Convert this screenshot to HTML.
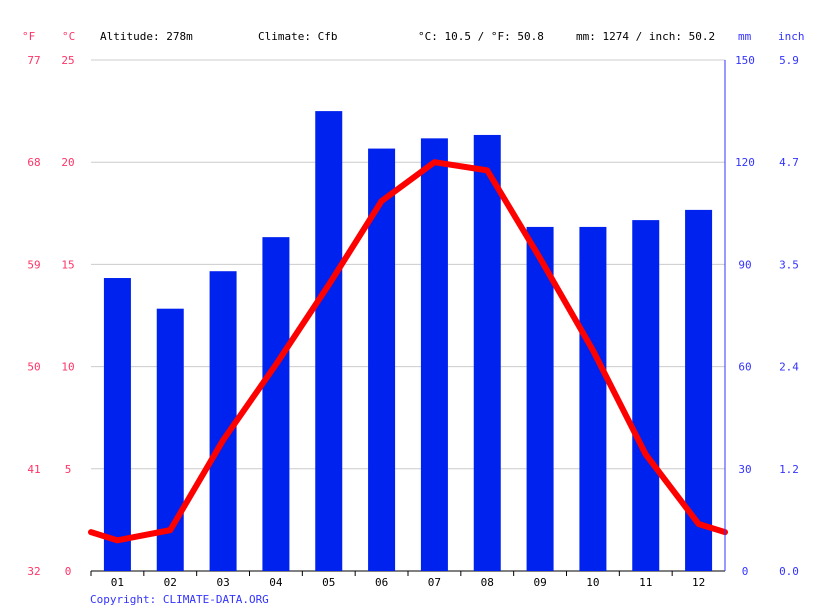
<!DOCTYPE html>
<html><head><meta charset="utf-8"><style>
body{margin:0;background:#fff;}
svg text{font-family:"DejaVu Sans Mono","Liberation Mono",monospace;font-size:11px;}
</style></head><body>
<svg id="chart" width="815" height="611" xmlns="http://www.w3.org/2000/svg">
<g id="grid"></g><g id="bars"></g><g id="line"></g><g id="axes"></g>
<text x="100" y="40" fill="#000">Altitude: 278m</text>
<text x="258" y="40" fill="#000">Climate: Cfb</text>
<text x="418" y="40" fill="#000">°C: 10.5 / °F: 50.8</text>
<text x="576" y="40" fill="#000">mm: 1274 / inch: 50.2</text>
<text x="22" y="40" fill="#ff3366">°F</text>
<text x="62" y="40" fill="#ff3366">°C</text>
<text x="738" y="40" fill="#3333ff">mm</text>
<text x="778" y="40" fill="#3333ff">inch</text>
<text x="90" y="603" fill="#3333ff">Copyright: CLIMATE-DATA.ORG</text>
</svg>
<script>
const months=["01","02","03","04","05","06","07","08","09","10","11","12"];
const precip=[86,77,88,98,135,124,127,128,101,101,103,106];
const temps=[1.5,2.0,6.4,10.1,14.0,18.1,20.0,19.6,15.3,10.8,5.7,2.3];
const cTicks=[0,5,10,15,20,25];
const fTicks=["32","41","50","59","68","77"];
const mmTicks=["0","30","60","90","120","150"];
const inchTicks=["0.0","1.2","2.4","3.5","4.7","5.9"];
const NS="http://www.w3.org/2000/svg";
const X0=91,X1=725,Y0=571,Y1=60;
const step=(X1-X0)/12;
const xc=i=>X0+step*(i+0.5);
const yT=t=>Y0-(t/25)*(Y0-Y1);
const yP=p=>Y0-(p/150)*(Y0-Y1);
function mk(tag,attrs,parent){const e=document.createElementNS(NS,tag);for(const k in attrs)e.setAttribute(k,attrs[k]);parent.appendChild(e);return e;}
const grid=document.getElementById('grid'),bars=document.getElementById('bars'),line=document.getElementById('line'),axes=document.getElementById('axes');
cTicks.forEach((c,i)=>{const y=yT(c);
 const g=mk('line',{x1:X0,x2:X1,y1:y,y2:y,stroke:c===0?'#000':'#ccc','stroke-width':1},grid);
 
 
 const a=mk('text',{x:34,y:y+4,fill:'#ff3366','text-anchor':'middle'},axes);a.textContent=fTicks[i];
 
 
 const b=mk('text',{x:68,y:y+4,fill:'#ff3366','text-anchor':'middle'},axes);b.textContent=c;
 
 
 const m=mk('text',{x:745,y:y+4,fill:'#3333ff','text-anchor':'middle'},axes);m.textContent=mmTicks[i];
 
 
 const n=mk('text',{x:789,y:y+4,fill:'#3333ff','text-anchor':'middle'},axes);n.textContent=inchTicks[i];
 
 
});
const ax=mk('line',{x1:X1,x2:X1,y1:Y1,y2:Y0,stroke:'#3333ff'},axes);


precip.forEach((p,i)=>{
 const r=mk('rect',{x:xc(i)-13.5,y:yP(p),width:27,height:Y0-yP(p),fill:'#0022ee'},bars);
 
 
 const t=mk('text',{x:xc(i),y:586,fill:'#000','text-anchor':'middle'},axes);t.textContent=months[i];
 
 
 const tk=mk('line',{x1:X0+step*i,x2:X0+step*i,y1:Y0,y2:Y0+5,stroke:'#000'},axes);
 
 
});
const edge=(temps[0]+temps[11])/2;
let pts=[[X0,yT(edge)]];
temps.forEach((t,i)=>pts.push([xc(i),yT(t)]));
pts.push([X1,yT(edge)]);
const pl=mk('polyline',{points:pts.map(p=>p.join(',')).join(' '),fill:'none',stroke:'#ff0000','stroke-width':6,'stroke-linejoin':'round','stroke-linecap':'round'},line);


</script>
</body></html>
